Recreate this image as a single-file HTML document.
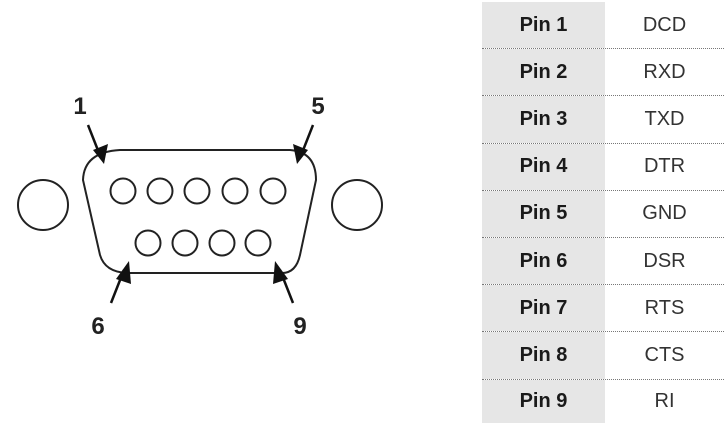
<!DOCTYPE html>
<html><head><style>
body{margin:0;width:726px;height:430px;background:#fff;overflow:hidden;position:relative;font-family:"Liberation Sans",sans-serif}
.r{position:absolute;left:482px;width:242px;height:47.2px;border-bottom:1.5px dotted #777;box-sizing:border-box;display:flex}
.a{width:123px;background:#e6e6e6;font-weight:bold;font-size:20px;color:#1a1a1a;display:flex;align-items:center;justify-content:center}
.b{flex:1;font-size:20px;color:#333;display:flex;align-items:center;justify-content:center}
</style></head><body>
<svg width="400" height="430" style="position:absolute;left:0;top:0">
<g fill="none" stroke="#222" stroke-width="2">
<circle cx="43" cy="205" r="25"/><circle cx="357" cy="205" r="25"/>
<path d="M120,150 L290,150 Q316,152 316,180 L300,255 Q296,273 282,273 L127,273 Q105,272 100,255 L83,180 Q84,152 120,150 Z"/>
<circle cx="123" cy="191" r="12.5"/><circle cx="160" cy="191" r="12.5"/><circle cx="197" cy="191" r="12.5"/><circle cx="235" cy="191" r="12.5"/><circle cx="273" cy="191" r="12.5"/>
<circle cx="148" cy="243" r="12.5"/><circle cx="185" cy="243" r="12.5"/><circle cx="222" cy="243" r="12.5"/><circle cx="258" cy="243" r="12.5"/>
</g>
<g stroke="#111" stroke-width="2.5">
<line x1="88" y1="125" x2="101" y2="158"/><line x1="313" y1="125" x2="300" y2="158"/>
<line x1="111" y1="303" x2="124" y2="270"/><line x1="293" y1="303" x2="280" y2="270"/>
</g>
<g fill="#111">
<path d="M93,150 L108,144 L104,164z"/><path d="M308,150 L293,144 L297,164z"/>
<path d="M116,279 L131,284 L129,261z"/>
<path d="M288,279 L273,284 L275,261z"/>
</g>
<g font-family="Liberation Sans" font-weight="bold" font-size="24" fill="#222" text-anchor="middle">
<text x="80" y="114">1</text><text x="318" y="114">5</text><text x="98" y="334">6</text><text x="300" y="334">9</text>
</g>
</svg>
<div style="position:absolute;left:0;top:2px">
<div class="r" style="top:0"><div class="a">Pin 1</div><div class="b">DCD</div></div>
<div class="r" style="top:47.2px"><div class="a">Pin 2</div><div class="b">RXD</div></div>
<div class="r" style="top:94.4px"><div class="a">Pin 3</div><div class="b">TXD</div></div>
<div class="r" style="top:141.6px"><div class="a">Pin 4</div><div class="b">DTR</div></div>
<div class="r" style="top:188.8px"><div class="a">Pin 5</div><div class="b">GND</div></div>
<div class="r" style="top:236px"><div class="a">Pin 6</div><div class="b">DSR</div></div>
<div class="r" style="top:283.2px"><div class="a">Pin 7</div><div class="b">RTS</div></div>
<div class="r" style="top:330.4px"><div class="a">Pin 8</div><div class="b">CTS</div></div>
<div class="r" style="top:377.6px;border-bottom:none;height:43.5px"><div class="a">Pin 9</div><div class="b">RI</div></div>
</div>
</body></html>
